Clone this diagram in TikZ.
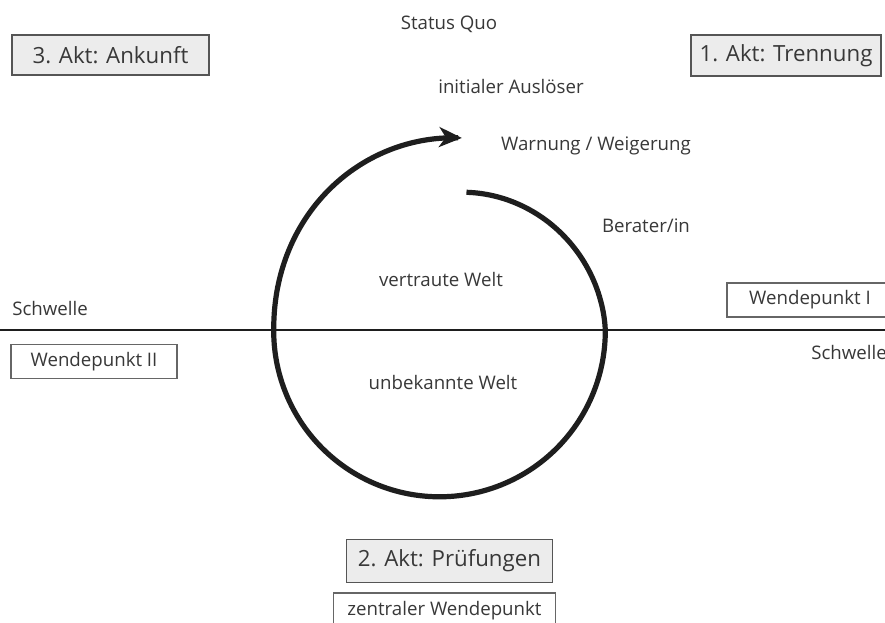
\documentclass[tikz,border=0pt]{standalone}
\usepackage{fontspec}
\setmainfont{Open Sans}
\usetikzlibrary{arrows.meta}
\definecolor{txt}{HTML}{383838}
\definecolor{boxfill}{HTML}{ECECEC}
\definecolor{boxline}{HTML}{555555}
\definecolor{wline}{HTML}{666666}
\definecolor{ink}{HTML}{1E1E1E}
\begin{document}
\begin{tikzpicture}[x=0.75pt,y=-0.75pt,
  declare function={
    ua(\t)=max((79-\t)/79,0.0001);
    ub(\t)=max((\t-259)/96.6,0.0001);
    rr(\t)=165.8-24.5*ua(\t)^1.3+28.5*(0.5*ub(\t)^1.5+0.5*(3*ub(\t)^2-2*ub(\t)^3));
  },
  lbl/.style={text=txt,font=\fontsize{14}{16}\selectfont,inner sep=0pt},
  actbox/.style={draw=boxline,line width=1.1pt,fill=boxfill,text=txt,
    font=\fontsize{16.7}{19}\selectfont,inner sep=0pt},
  wbox/.style={draw=wline,line width=0.8pt,fill=white,text=txt,
    font=\fontsize{14}{16}\selectfont,inner sep=0pt},
  spiral/.style={line width=3.9pt,draw=ink,line cap=butt,
    -{Stealth[length=17pt,width=15pt,inset=5pt]}}]
\path[use as bounding box] (0,0) rectangle (885,623);
\clip (0,0) rectangle (885,623);
\fill[white] (0,0) rectangle (885,623);

% labels
\node[lbl] (status) at (449,24) {Status Quo};
\node[lbl] (ausl) at (511,87) {initialer Auslöser};
\node[lbl] (warn) at (596,146) {Warnung / Weigerung};
\node[lbl] (berat) at (646,226) {Berater/in};
\node[lbl] (vert) at (441,280) {vertraute Welt};
\node[lbl] (unbek) at (443,383) {unbekannte Welt};
\node[lbl,anchor=west] (schw1) at (12,309) {Schwelle};
\node[lbl,anchor=west] (schw2) at (811,353) {Schwelle};

% act boxes
\node[actbox,minimum width=147.75pt,minimum height=30pt] (akt3) at (110.5,55) {3. Akt: Ankunft};
\node[actbox,minimum width=142.5pt,minimum height=30.75pt] (akt1) at (786,55.5) {1. Akt: Trennung};
\node[actbox,minimum width=154.2pt,minimum height=32.25pt] (akt2) at (449.5,560.8) {2. Akt: Prüfungen};

% turning point boxes
\node[wbox,minimum width=124.5pt,minimum height=25.5pt] (wp1) at (810,300) {Wendepunkt I};
\node[wbox,minimum width=124.5pt,minimum height=25.5pt] (wp2) at (94,361.3) {Wendepunkt II};
\node[wbox,minimum width=166.8pt,minimum height=27pt] (wpz) at (444.5,611) {zentraler Wendepunkt};

% threshold line
\coordinate (lineL) at (0,330);
\coordinate (lineR) at (885,330);
\draw[line width=1.5pt,draw=ink] (lineL) -- (lineR);

% spiral around the centre of the two worlds
\coordinate (ctr) at (439.5,331);
\draw[spiral] plot[domain=0:355.6,samples=240,variable=\t,smooth]
  ({439.5+rr(\t)*cos(79-\t)},{331-rr(\t)*sin(79-\t)});
\end{tikzpicture}
\end{document}
